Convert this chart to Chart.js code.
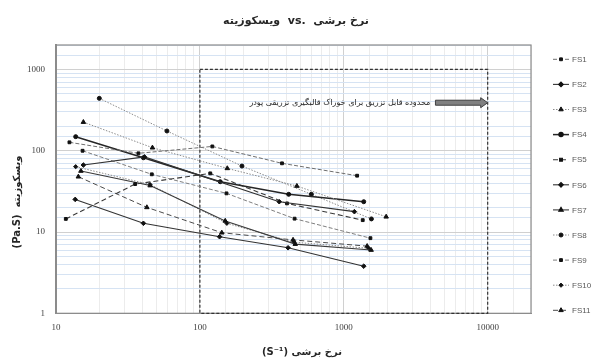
<!DOCTYPE html>
<html>
<head>
<meta charset="utf-8">
<script src="https://cdn.jsdelivr.net/npm/chart.js@4.4.1/dist/chart.umd.min.js"></script>
<style>
html, body { margin: 0; padding: 0; background: #fff; }
</style>
</head>
<body>
<canvas id="chart" width="592" height="360"></canvas>
<script>
// shear rate (1/s), viscosity (Pa.s) pairs
const fs1 = [[12.4, 127], [37.4, 93], [122, 113], [372, 70], [1238, 49.3]];
const fs2 = [[15.5, 66.7], [41.2, 84], [356, 23.6], [1185, 17.8]];
const fs3 = [[15.5, 225], [46.8, 109], [155, 60.7], [472, 36.8], [1970, 15.4]];
const fs4 = [[13.7, 149], [40.5, 82], [138.5, 41.6], [414, 29.1], [1376, 23.6]];
const fs5 = [[11.7, 14.5], [35.5, 38.9], [118, 52.7], [403, 22.5], [1354, 14.0]];
const fs6 = [[13.6, 25.2], [40.5, 12.8], [137, 8.75], [410, 6.4], [1376, 3.8]];
const fs7 = [[14.9, 56.3], [45.1, 37.3], [150, 13.7], [460, 7.1], [1549, 6.0]];
const fs8 = [[20, 441], [59, 175], [196, 64.8], [595, 29.1], [1556, 14.5]];
const fs9 = [[15.3, 100], [46.3, 51.3], [153, 29.9], [455, 14.6], [1531, 8.4]];
const fs10 = [[13.7, 63.6], [45, 38.4], [154, 12.8], [450, 7.5], [1490, 6.3]];
const fs11 = [[14.3, 47.9], [42.8, 20.1], [142, 9.8], [444, 8.0], [1453, 6.7]];

const seriesNames = ['FS1', 'FS2', 'FS3', 'FS4', 'FS5', 'FS6', 'FS7', 'FS8', 'FS9', 'FS10', 'FS11'];
const seriesData = [fs1, fs2, fs3, fs4, fs5, fs6, fs7, fs8, fs9, fs10, fs11];

const xTickLabels = [10, 100, 1000, 10000];
const yTickLabels = [1, 10, 100, 1000];
const xRange = [10, 20000];
const yRange = [1, 2000];

// injectable window and its note
const regionX = [100, 10000];
const regionY = [1, 1000];
const noteText = 'محدوده قابل تزریق برای خوراک قالبگیری تزریقی پودر';
const noteX = [220, 4000];
const arrowX = [4335, 10000];
const noteY = 390;

const titleText = 'ویسکوزیته  vs.  نرخ برشی';
const xTitle = '(S⁻¹) نرخ برشی';
const yTitle = '(Pa.S)  ویسکوزیته';

const styles = [
  { color: '#6f6f6f', dash: [4, 2], width: 1, point: 'rect', r: 2 },
  { color: '#333333', dash: [], width: 1.1, point: 'rectRot', r: 2.3 },
  { color: '#8c8c8c', dash: [1.5, 1.5], width: 1, point: 'triangle', r: 2.6 },
  { color: '#262626', dash: [], width: 1.5, point: 'circle', r: 2 },
  { color: '#3a3a3a', dash: [5, 3], width: 1.1, point: 'rect', r: 2 },
  { color: '#333333', dash: [], width: 1.1, point: 'rectRot', r: 2.3 },
  { color: '#3a3a3a', dash: [], width: 1.1, point: 'triangle', r: 2.6 },
  { color: '#8c8c8c', dash: [1.5, 1.5], width: 1, point: 'circle', r: 2 },
  { color: '#7f7f7f', dash: [4, 2], width: 1, point: 'rect', r: 2 },
  { color: '#8c8c8c', dash: [1.5, 1.5], width: 1, point: 'rectRot', r: 2.1 },
  { color: '#4a4a4a', dash: [5, 3], width: 1, point: 'triangle', r: 2.6 }
];

const isDecade = v => Math.abs(Math.log10(v) - Math.round(Math.log10(v))) < 1e-6;

const datasets = seriesNames.map((name, i) => ({
  label: name,
  data: seriesData[i].map(p => ({ x: p[0], y: p[1] })),
  borderColor: styles[i].color,
  borderDash: styles[i].dash,
  borderWidth: styles[i].width,
  pointStyle: styles[i].point,
  pointRadius: styles[i].r,
  pointBackgroundColor: '#111',
  pointBorderColor: '#111',
  pointBorderWidth: 1,
  tension: 0,
  fill: false
}));

const overlay = {
  id: 'overlay',
  beforeDatasetsDraw(chart) {
    const { ctx, chartArea: a, scales: { x, y } } = chart;
    ctx.save();
    ctx.strokeStyle = '#8c8c8c';
    ctx.lineWidth = 1.2;
    ctx.strokeRect(a.left, a.top, a.right - a.left, a.bottom - a.top);

    const l = x.getPixelForValue(regionX[0]), r = x.getPixelForValue(regionX[1]);
    const t = y.getPixelForValue(regionY[1]), b = y.getPixelForValue(regionY[0]);
    ctx.setLineDash([3, 2]);
    ctx.strokeStyle = '#333';
    ctx.lineWidth = 1.2;
    ctx.strokeRect(l, t, r - l, b - t);
    ctx.restore();
  },
  afterDraw(chart) {
    const { ctx, scales: { x, y } } = chart;
    ctx.save();

    // note + arrow
    const ny = y.getPixelForValue(noteY);
    const nl = x.getPixelForValue(noteX[0]), nr = x.getPixelForValue(noteX[1]);
    ctx.font = '8px "DejaVu Sans"';
    const w = ctx.measureText(noteText).width;
    const size = Math.max(6, Math.min(9, 8 * (nr - nl) / w));
    ctx.font = size + 'px "DejaVu Sans"';
    ctx.direction = 'rtl';
    ctx.textAlign = 'right';
    ctx.textBaseline = 'middle';
    ctx.fillStyle = '#262626';
    ctx.fillText(noteText, nr, ny);
    ctx.direction = 'ltr';

    const ax0 = x.getPixelForValue(arrowX[0]), ax1 = x.getPixelForValue(arrowX[1]);
    const head = 7;
    ctx.beginPath();
    ctx.moveTo(ax0, ny - 2.5);
    ctx.lineTo(ax1 - head, ny - 2.5);
    ctx.lineTo(ax1 - head, ny - 5);
    ctx.lineTo(ax1, ny);
    ctx.lineTo(ax1 - head, ny + 5);
    ctx.lineTo(ax1 - head, ny + 2.5);
    ctx.lineTo(ax0, ny + 2.5);
    ctx.closePath();
    ctx.fillStyle = '#808080';
    ctx.fill();
    ctx.strokeStyle = '#404040';
    ctx.lineWidth = 1;
    ctx.stroke();

    // title
    ctx.fillStyle = '#262626';
    ctx.textAlign = 'center';
    ctx.font = 'bold 11px "DejaVu Sans"';
    ctx.fillText(titleText, 296, 21);

    // axis titles
    ctx.font = 'bold 10px "DejaVu Sans"';
    ctx.fillText(xTitle, 302, 352);
    ctx.save();
    ctx.translate(17, 202);
    ctx.rotate(-Math.PI / 2);
    ctx.fillText(yTitle, 0, 0);
    ctx.restore();

    // legend
    const lx = 553, ly = 59.3, step = 25.1;
    chart.data.datasets.forEach((ds, i) => {
      const cy = ly + i * step;
      ctx.beginPath();
      ctx.setLineDash(ds.borderDash);
      ctx.strokeStyle = ds.borderColor;
      ctx.lineWidth = ds.borderWidth;
      ctx.moveTo(lx, cy);
      ctx.lineTo(lx + 16, cy);
      ctx.stroke();
      ctx.setLineDash([]);
      ctx.fillStyle = '#111';
      ctx.strokeStyle = '#111';
      Chart.helpers.drawPoint(ctx, { pointStyle: ds.pointStyle, radius: ds.pointRadius, rotation: 0, borderWidth: 1 }, lx + 8, cy);
      ctx.fillStyle = '#595959';
      ctx.font = '8px "Liberation Sans"';
      ctx.textAlign = 'left';
      ctx.fillText(ds.label, lx + 19, cy + 0.5);
    });
    ctx.restore();
  }
};

new Chart(document.getElementById('chart'), {
  type: 'line',
  data: { datasets },
  plugins: [overlay],
  options: {
    responsive: false,
    animation: false,
    devicePixelRatio: 1,
    layout: { padding: { top: 45, right: 61, left: 0, bottom: 0 } },
    plugins: { legend: { display: false }, title: { display: false }, tooltip: { enabled: false } },
    scales: {
      x: {
        type: 'logarithmic',
        min: xRange[0],
        max: xRange[1],
        afterFit: s => { s.height = 46.7; },
        grid: { color: c => isDecade(c.tick.value) ? '#d0d0d0' : '#ececec', drawTicks: false },
        border: { color: '#8c8c8c', width: 1 },
        ticks: {
          autoSkip: false, maxRotation: 0, padding: 9, color: '#404040',
          font: { family: 'Liberation Serif', size: 9 },
          callback: v => xTickLabels.includes(v) ? String(v) : ''
        }
      },
      y: {
        type: 'logarithmic',
        min: yRange[0],
        max: yRange[1],
        afterFit: s => { s.width = 56; },
        grid: { color: c => isDecade(c.tick.value) ? '#d0d0d0' : '#d6e3f3', drawTicks: false },
        border: { color: '#8c8c8c', width: 2 },
        ticks: {
          autoSkip: false, padding: 11, color: '#404040',
          font: { family: 'Liberation Serif', size: 9 },
          callback: v => yTickLabels.includes(v) ? String(v) : ''
        }
      }
    }
  }
});
</script>
</body>
</html>
